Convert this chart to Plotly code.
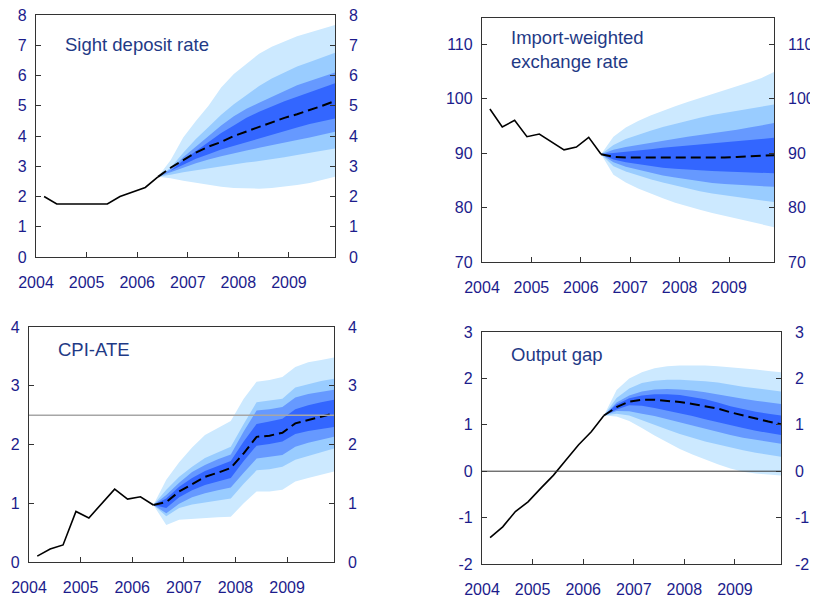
import plotly.graph_objects as go

# ---------------- DATA ----------------
hist_quarters = ["2004Q1", "2004Q2", "2004Q3", "2004Q4", "2005Q1", "2005Q2",
                 "2005Q3", "2005Q4", "2006Q1", "2006Q2"]
fc_quarters = ["2006Q2", "2006Q3", "2006Q4", "2007Q1", "2007Q2", "2007Q3", "2007Q4",
               "2008Q1", "2008Q2", "2008Q3", "2008Q4", "2009Q1", "2009Q2", "2009Q3", "2009Q4"]
year_ticks = [2004, 2005, 2006, 2007, 2008, 2009]
year_labels = ["2004", "2005", "2006", "2007", "2008", "2009"]

# Sight deposit rate
sdr_hist = [2.0, 1.75, 1.75, 1.75, 1.75, 1.75, 2.0, 2.15, 2.3, 2.65]
sdr_median = [2.65, 2.95, 3.2, 3.45, 3.65, 3.8, 4.0, 4.15, 4.3, 4.45, 4.6, 4.72, 4.85, 5.0, 5.16]
sdr_90_hi = [2.65, 3.2, 3.95, 4.5, 5.0, 5.6, 6.05, 6.4, 6.72, 6.95, 7.12, 7.3, 7.42, 7.55, 7.67]
sdr_70_hi = [2.65, 2.95, 3.45, 3.9, 4.3, 4.7, 5.05, 5.35, 5.65, 5.9, 6.1, 6.3, 6.45, 6.6, 6.75]
sdr_50_hi = [2.65, 2.9, 3.3, 3.65, 4.0, 4.35, 4.65, 4.9, 5.1, 5.3, 5.5, 5.68, 5.82, 5.95, 6.1]
sdr_30_hi = [2.65, 2.85, 3.2, 3.5, 3.8, 4.1, 4.35, 4.6, 4.8, 4.98, 5.15, 5.3, 5.45, 5.6, 5.74]
sdr_30_lo = [2.65, 2.85, 3.05, 3.25, 3.4, 3.55, 3.68, 3.8, 3.92, 4.04, 4.16, 4.28, 4.4, 4.5, 4.58]
sdr_50_lo = [2.65, 2.8, 2.95, 3.1, 3.22, 3.33, 3.43, 3.52, 3.61, 3.7, 3.79, 3.87, 3.95, 4.04, 4.14]
sdr_70_lo = [2.65, 2.72, 2.8, 2.88, 2.94, 3.0, 3.06, 3.12, 3.17, 3.23, 3.3, 3.37, 3.44, 3.51, 3.59]
sdr_90_lo = [2.65, 2.6, 2.52, 2.45, 2.38, 2.32, 2.28, 2.26, 2.26, 2.28, 2.32, 2.38, 2.45, 2.55, 2.65]

# Import-weighted exchange rate
i44_hist = [98.1, 94.8, 96.0, 93.0, 93.5, 92.1, 90.6, 91.1, 92.9, 89.8]
i44_median = [89.8, 89.3, 89.2, 89.2, 89.2, 89.2, 89.15, 89.1, 89.1, 89.15, 89.2, 89.3, 89.4, 89.5, 89.6]
i44_90_hi = [89.8, 93.0, 94.7, 95.9, 96.9, 97.8, 98.6, 99.4, 100.1, 100.8, 101.5, 102.2, 103.0, 103.8, 104.9]
i44_70_hi = [89.8, 91.5, 92.6, 93.4, 94.1, 94.8, 95.4, 96.0, 96.5, 97.0, 97.4, 97.8, 98.2, 98.6, 98.9]
i44_50_hi = [89.8, 90.6, 91.1, 91.5, 91.9, 92.3, 92.7, 93.0, 93.3, 93.6, 93.9, 94.3, 94.7, 95.1, 95.5]
i44_30_hi = [89.8, 90.0, 90.2, 90.5, 90.7, 91.0, 91.2, 91.4, 91.6, 91.8, 92.0, 92.2, 92.4, 92.6, 92.8]
i44_30_lo = [89.8, 88.8, 88.3, 87.9, 87.6, 87.3, 87.1, 86.9, 86.8, 86.7, 86.6, 86.5, 86.4, 86.35, 86.3]
i44_50_lo = [89.8, 88.3, 87.5, 86.9, 86.4, 85.9, 85.5, 85.1, 84.8, 84.5, 84.3, 84.1, 84.0, 83.9, 83.8]
i44_70_lo = [89.8, 87.6, 86.6, 85.9, 85.2, 84.6, 84.0, 83.5, 83.0, 82.6, 82.2, 81.9, 81.6, 81.3, 81.0]
i44_90_lo = [89.8, 86.0, 84.6, 83.5, 82.6, 81.7, 80.9, 80.2, 79.6, 79.0, 78.4, 77.9, 77.4, 76.9, 76.4]

# CPI-ATE
cpi_hist = [0.10, 0.22, 0.29, 0.86, 0.75, 1.0, 1.24, 1.07, 1.11, 0.97]
cpi_median = [0.97, 1.02, 1.2, 1.33, 1.45, 1.52, 1.6, 1.85, 2.13, 2.15, 2.2, 2.36, 2.42, 2.47, 2.53]
cpi_90_hi = [0.97, 1.40, 1.7, 1.95, 2.16, 2.28, 2.4, 2.78, 3.07, 3.1, 3.15, 3.32, 3.4, 3.44, 3.48]
cpi_70_hi = [0.97, 1.23, 1.45, 1.62, 1.77, 1.87, 1.96, 2.35, 2.72, 2.75, 2.78, 2.97, 3.03, 3.08, 3.12]
cpi_50_hi = [0.97, 1.14, 1.35, 1.53, 1.65, 1.75, 1.83, 2.22, 2.58, 2.6, 2.64, 2.8, 2.86, 2.9, 2.93]
cpi_30_hi = [0.97, 1.08, 1.28, 1.43, 1.55, 1.64, 1.72, 2.05, 2.35, 2.39, 2.44, 2.6, 2.67, 2.72, 2.76]
cpi_30_lo = [0.97, 0.92, 1.1, 1.22, 1.31, 1.37, 1.43, 1.72, 1.98, 2.01, 2.05, 2.18, 2.23, 2.27, 2.3]
cpi_50_lo = [0.97, 0.83, 0.99, 1.1, 1.17, 1.22, 1.27, 1.52, 1.76, 1.79, 1.82, 1.96, 2.03, 2.08, 2.13]
cpi_70_lo = [0.97, 0.78, 0.92, 0.98, 1.02, 1.05, 1.08, 1.33, 1.56, 1.58, 1.62, 1.74, 1.8, 1.87, 1.93]
cpi_90_lo = [0.97, 0.63, 0.72, 0.74, 0.75, 0.76, 0.77, 1.0, 1.2, 1.2, 1.23, 1.37, 1.43, 1.49, 1.54]
inflation_target = 2.5

# Output gap
gap_hist = [-1.43, -1.2, -0.87, -0.66, -0.37, -0.09, 0.24, 0.57, 0.85, 1.2]
gap_median = [1.2, 1.38, 1.5, 1.54, 1.54, 1.52, 1.49, 1.45, 1.4, 1.35, 1.27, 1.2, 1.13, 1.07, 1.01]
gap_90_hi = [1.2, 1.75, 2.0, 2.13, 2.22, 2.26, 2.28, 2.28, 2.28, 2.26, 2.24, 2.22, 2.19, 2.16, 2.13]
gap_70_hi = [1.2, 1.58, 1.78, 1.9, 1.95, 1.97, 1.97, 1.96, 1.94, 1.91, 1.86, 1.82, 1.79, 1.76, 1.72]
gap_50_hi = [1.2, 1.48, 1.63, 1.72, 1.76, 1.77, 1.76, 1.74, 1.7, 1.65, 1.6, 1.56, 1.52, 1.48, 1.45]
gap_30_hi = [1.2, 1.44, 1.57, 1.63, 1.66, 1.66, 1.64, 1.6, 1.55, 1.48, 1.4, 1.34, 1.28, 1.24, 1.2]
gap_30_lo = [1.2, 1.33, 1.42, 1.41, 1.36, 1.31, 1.25, 1.19, 1.12, 1.06, 0.99, 0.93, 0.87, 0.82, 0.78]
gap_50_lo = [1.2, 1.3, 1.29, 1.24, 1.19, 1.12, 1.05, 0.99, 0.92, 0.85, 0.78, 0.72, 0.67, 0.63, 0.59]
gap_70_lo = [1.2, 1.24, 1.2, 1.1, 1.0, 0.9, 0.8, 0.72, 0.64, 0.57, 0.51, 0.45, 0.4, 0.35, 0.31]
gap_90_lo = [1.2, 1.18, 1.08, 0.93, 0.77, 0.62, 0.48, 0.36, 0.25, 0.15, 0.06, -0.01, -0.05, -0.07, -0.09]
gap_reference = 0

# ---------------- STYLE ----------------
PAGE_OFFSET = 8            # default body margin of the html page
W, H = 818 - PAGE_OFFSET, 598 - PAGE_OFFSET
BAND_COLORS = ["#cce9ff", "#99ccff", "#6699ff", "#3366ff"]
TICK_COLOR = "#1c1c8c"
TITLE_COLOR = "#1f3a86"
FONT = "Liberation Sans, Arial, sans-serif"
X_RANGE = [2004, 2009.91]


def qpos(q):
    return int(q[:4]) + (int(q[-1]) - 1) * 0.25 + 0.16


def px_x(v):
    return (v - PAGE_OFFSET) / W


def px_y(v):
    return 1 - (v - PAGE_OFFSET) / H


hx = [qpos(q) for q in hist_quarters]
fx = [qpos(q) for q in fc_quarters]

panels = [
    dict(title="Sight deposit rate", hist=sdr_hist, med=sdr_median,
         bands=[(sdr_90_lo, sdr_90_hi), (sdr_70_lo, sdr_70_hi), (sdr_50_lo, sdr_50_hi), (sdr_30_lo, sdr_30_hi)],
         yr=[0, 8], dt=1, box=(36, 335, 15, 257), tpos=(63, 44), ref=None),
    dict(title="Import-weighted<br>exchange rate", hist=i44_hist, med=i44_median,
         bands=[(i44_90_lo, i44_90_hi), (i44_70_lo, i44_70_hi), (i44_50_lo, i44_50_hi), (i44_30_lo, i44_30_hi)],
         yr=[70, 114.8], dt=10, box=(482, 774, 18, 262), tpos=(509, 50), ref=None),
    dict(title="CPI-ATE", hist=cpi_hist, med=cpi_median,
         bands=[(cpi_90_lo, cpi_90_hi), (cpi_70_lo, cpi_70_hi), (cpi_50_lo, cpi_50_hi), (cpi_30_lo, cpi_30_hi)],
         yr=[0, 4], dt=1, box=(29, 334, 327, 562), tpos=(56, 349), ref=(inflation_target, "#a6a6a6", 1.5)),
    dict(title="Output gap", hist=gap_hist, med=gap_median,
         bands=[(gap_90_lo, gap_90_hi), (gap_70_lo, gap_70_hi), (gap_50_lo, gap_50_hi), (gap_30_lo, gap_30_hi)],
         yr=[-2, 3], dt=1, box=(482, 781, 332, 564), tpos=(509, 354), ref=(gap_reference, "#333333", 1)),
]

fig = go.Figure()
layout = dict(width=W, height=H, margin=dict(l=0, r=0, t=0, b=0, autoexpand=False),
              plot_bgcolor="white", paper_bgcolor="white", showlegend=False,
              font=dict(family=FONT), shapes=[], annotations=[])

for i, p in enumerate(panels):
    n = i + 1
    sfx = "" if n == 1 else str(n)
    rn = n + 4
    xa, ya, yra = "x" + sfx, "y" + sfx, "y" + str(rn)
    x0, x1, y0, y1 = p["box"]
    xdom = [px_x(x0), px_x(x1)]
    ydom = [px_y(y1), px_y(y0)]

    # fan bands (widest first)
    for (lo, hi), col in zip(p["bands"], BAND_COLORS):
        fig.add_trace(go.Scatter(x=fx + fx[::-1], y=hi + lo[::-1], fill="toself",
                                 fillcolor=col, line=dict(width=0), mode="lines",
                                 hoverinfo="skip", xaxis=xa, yaxis=ya))
    # history
    fig.add_trace(go.Scatter(x=hx, y=p["hist"], mode="lines",
                             line=dict(color="black", width=1.6), xaxis=xa, yaxis=ya))
    # projection (on the right-hand axis so it sits on top)
    fig.add_trace(go.Scatter(x=fx, y=p["med"], mode="lines",
                             line=dict(color="black", width=2, dash="10px,5px"), xaxis=xa, yaxis=yra))

    if p["ref"] is not None:
        val, col, wd = p["ref"]
        layout["shapes"].append(dict(type="line", xref=xa + " domain", x0=0, x1=1,
                                     yref=ya, y0=val, y1=val, layer="above",
                                     line=dict(color=col, width=wd)))

    tickvals_y = list(range(int(p["yr"][0]), int(p["yr"][1]) + 1, p["dt"]))
    ticktext_y = [str(v) for v in tickvals_y]  # plain hyphen for negatives
    axline = dict(showline=True, linecolor="#333333", linewidth=1.3)
    tf = dict(size=16, color=TICK_COLOR, family=FONT)
    layout["xaxis" + sfx] = dict(domain=xdom, range=X_RANGE, anchor=ya, automargin=False,
                                 tickvals=year_ticks, ticktext=year_labels,
                                 ticks="inside", ticklen=5, tickcolor="#333333",
                                 mirror=True, showgrid=False, zeroline=False,
                                 ticklabeloverflow="allow",
                                 tickfont=tf, ticklabelstandoff=11, **axline)
    layout["yaxis" + sfx] = dict(domain=ydom, range=p["yr"], anchor=xa, automargin=False,
                                 tickvals=tickvals_y, ticktext=ticktext_y,
                                 ticks="inside", ticklen=5,
                                 tickcolor="#333333", mirror=True, showgrid=False,
                                 zeroline=False, ticklabeloverflow="allow",
                                 tickfont=tf, ticklabelstandoff=5, **axline)
    layout["yaxis" + str(rn)] = dict(range=p["yr"], overlaying=ya, anchor=xa, side="right",
                                     automargin=False,
                                     tickvals=tickvals_y, ticktext=ticktext_y,
                                     ticks="inside", ticklen=5,
                                     tickcolor="#333333", showgrid=False, zeroline=False,
                                     showline=False, ticklabeloverflow="allow",
                                     tickfont=tf, ticklabelstandoff=13)

    tx, ty = p["tpos"]
    layout["annotations"].append(dict(text=p["title"], x=px_x(tx), y=px_y(ty),
                                      xref="paper", yref="paper", xanchor="left",
                                      yanchor="middle", align="left", showarrow=False,
                                      font=dict(size=18.5, color=TITLE_COLOR, family=FONT)))

fig.update_layout(**layout)
fig.write_html("out.html")
